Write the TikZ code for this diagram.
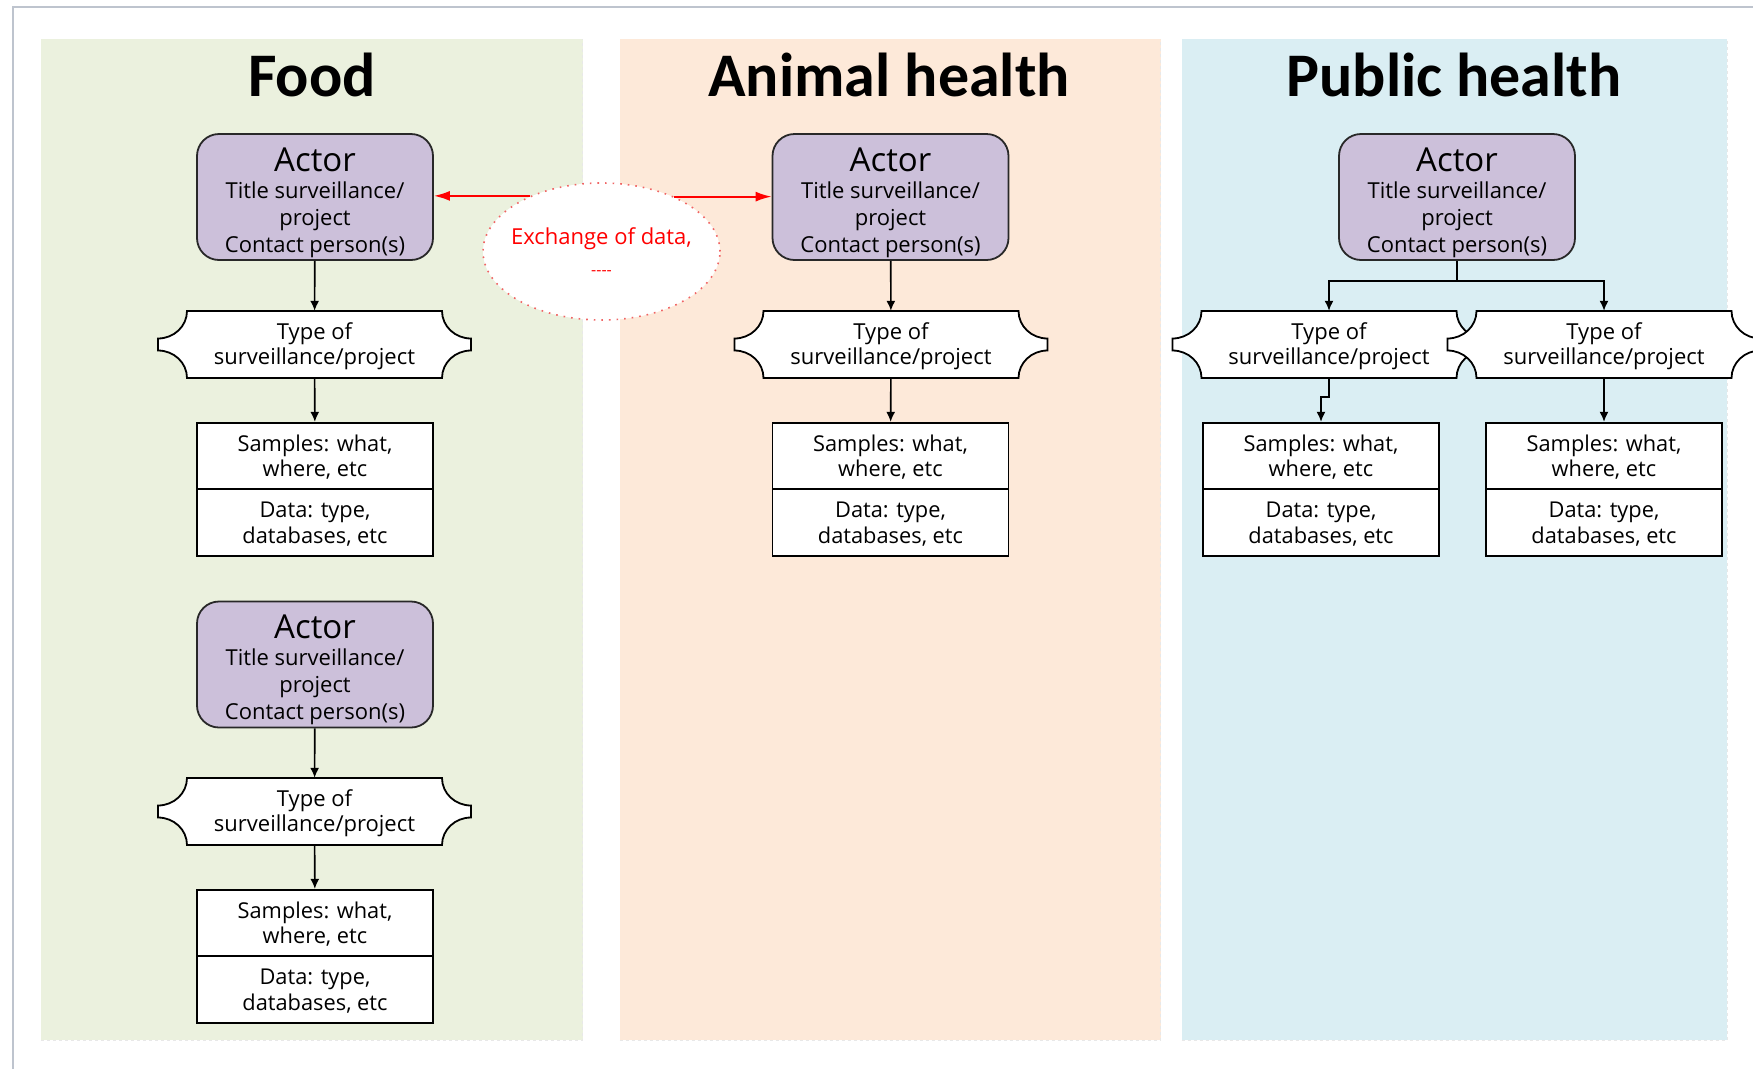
\documentclass[tikz,border=0pt]{standalone}
\usepackage{fontspec}
\setmainfont{Open Sans}
\newfontfamily\titlefont{Carlito}
\usetikzlibrary{arrows.meta,shapes.geometric,calc}

\definecolor{foodbg}{RGB}{235,241,222}
\definecolor{animbg}{RGB}{253,233,217}
\definecolor{pubbg}{RGB}{218,238,243}
\definecolor{actorfill}{RGB}{204,192,218}
\definecolor{xred}{RGB}{255,0,0}
\definecolor{dotred}{RGB}{240,100,100}
\definecolor{framecol}{RGB}{190,196,206}
\definecolor{edgecol}{RGB}{40,40,40}
\definecolor{panelline}{RGB}{232,232,232}

\tikzset{
 panel/.style={fill=#1},
 paneledge/.style={draw=panelline, dashed, line width=1pt},
 titletext/.style={font=\titlefont\bfseries\fontsize{62}{70}\selectfont, anchor=base},
 actor/.style={draw=edgecol, fill=actorfill, rounded corners=22pt, line width=1.8pt,
   minimum width=236pt, minimum height=126pt, align=center, inner sep=0pt,
   font=\fontsize{22}{27}\selectfont},
 typebox/.style={minimum width=313pt, minimum height=67pt, align=center, inner sep=0pt,
   font=\fontsize{22}{25.5}\selectfont},
 typeoutline/.style={draw=black, fill=white, line width=1.8pt},
 sampbox/.style={draw=black, fill=white, line width=1.8pt, minimum width=236pt,
   minimum height=66.5pt, align=center, inner sep=0pt, font=\fontsize{21.8}{25.5}\selectfont},
 conn/.style={draw=black, line width=1.6pt, -{Latex[length=10pt,width=9pt]}},
 xarrow/.style={draw=xred, line width=1.8pt, -{Latex[length=16pt,width=10pt]}},
 exbubble/.style={ellipse, draw=dotred, fill=white, line width=1.6pt,
   dash pattern=on 1.6pt off 6pt, minimum width=237pt, minimum height=137pt,
   align=center, inner xsep=-12pt, inner ysep=0pt, text=xred, font=\fontsize{22}{31}\selectfont},
}

\newcommand{\typenode}[3]{%
 \draw[typeoutline, shift={(#2,#3)}] (-127.5,-33.5) -- (127.5,-33.5)
   .. controls (127.5,-18.3) and (140.5,-6) .. (156.5,-6) -- (156.5,6)
   .. controls (140.5,6) and (127.5,18.3) .. (127.5,33.5) -- (-127.5,33.5)
   .. controls (-127.5,18.3) and (-140.5,6) .. (-156.5,6) -- (-156.5,-6)
   .. controls (-140.5,-6) and (-127.5,-18.3) .. (-127.5,-33.5) -- cycle;
 \node[typebox] (#1) at (#2,#3) {\rule{0pt}{20pt}Type of\\surveillance/project};%
}

\newcommand{\actortext}{{\fontsize{33}{36}\selectfont\rule{0pt}{35pt}Actor}\\Title surveillance/\\project\\Contact person(s)}
\newcommand{\samptext}{\rule{0pt}{19pt}Samples: what,\\where, etc}
\newcommand{\datatext}{\rule{0pt}{19pt}Data: type,\\databases, etc}

\begin{document}
\begin{tikzpicture}[x=1pt,y=-1pt]
\useasboundingbox (0,0) rectangle (1753,1069);
\fill[white] (0,0) rectangle (1753,1069);

% frame
\draw[framecol, line width=2pt] (13,1069) -- (13,7) -- (1753,7);

% panels
\path[panel=foodbg] (41,39) rectangle (582.5,1040);
\path[panel=animbg] (619.5,39) rectangle (1160.5,1040);
\path[panel=pubbg] (1181.5,39) rectangle (1727,1040);
\draw[paneledge] (41,1040) -- (582.5,1040) -- (582.5,39);
\draw[paneledge] (619.5,1040) -- (1160.5,1040) -- (1160.5,39);
\draw[paneledge] (1181.5,1040) -- (1727,1040) -- (1727,39);

% titles
\node[titletext] (tfood) at (312,96) {Food};
\node[titletext] (tanim) at (889,96) {Animal health};
\node[titletext] (tpub) at (1454,96) {Public health};

% Food column
\node[actor] (fa1) at (315,197) {\actortext};
\typenode{ft1}{314.5}{344.5}
\node[sampbox] (fs1a) at (315,456) {\samptext};
\node[sampbox] (fs1b) at (315,522.5) {\datatext};

\node[actor] (fa2) at (315,664.5) {\actortext};
\typenode{ft2}{314.5}{811.5}
\node[sampbox] (fs2a) at (315,923) {\samptext};
\node[sampbox] (fs2b) at (315,989.5) {\datatext};

% Animal column
\node[actor] (aa) at (890.5,197) {\actortext};
\typenode{at}{891}{344.5}
\node[sampbox] (asa) at (890.5,456) {\samptext};
\node[sampbox] (asb) at (890.5,522.5) {\datatext};

% Public column
\node[actor] (pa) at (1457,197) {\actortext};
\typenode{ptl}{1329}{344.5}
\typenode{ptr}{1604}{344.5}
\node[sampbox] (psla) at (1321,456) {\samptext};
\node[sampbox] (pslb) at (1321,522.5) {\datatext};
\node[sampbox] (psra) at (1604,456) {\samptext};
\node[sampbox] (psrb) at (1604,522.5) {\datatext};

% exchange bubble
\node[exbubble] (ex) at (601.5,251.5) {Exchange of data,\\{\fontsize{16}{31}\selectfont -{}-{}-{}-}};

% connectors
\draw[conn] (fa1) -- (ft1);
\draw[conn] (ft1) -- (fs1a);
\draw[conn] (fa2) -- (ft2);
\draw[conn] (ft2) -- (fs2a);
\draw[conn] (aa) -- (at);
\draw[conn] (at) -- (asa);

\coordinate (pj) at (1457,281);
\draw[conn] (pa.south) -- (pj) -| (ptl.north);
\draw[conn] (pj) -| (ptr.north);
\draw[conn] (ptl.south) -- ++(0,19) -| (psla.north);
\draw[conn] (ptr) -- (psra);

\draw[xarrow] (ex.142.7) -- (ex.142.7 -| fa1.east);
\draw[xarrow] (ex.37.3) -- (ex.37.3 -| aa.west);
\end{tikzpicture}
\end{document}
